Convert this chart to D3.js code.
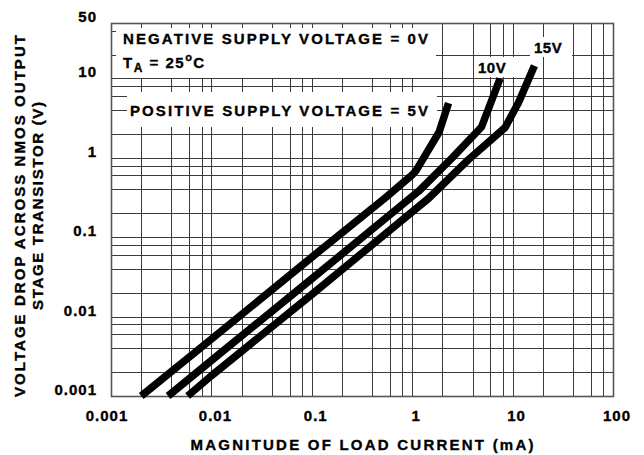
<!DOCTYPE html>
<html>
<head>
<meta charset="utf-8">
<script src="https://cdn.jsdelivr.net/npm/d3@7.9.0/dist/d3.min.js"></script>
<style>
  body { margin: 0; background: #fff; }
  text { font-family: "Liberation Sans", Arial, sans-serif; font-weight: bold; fill: #000;
         stroke: #000; stroke-width: 0.35px; }
</style>
</head>
<body>
<svg id="chart" width="644" height="455"></svg>
<script>
// axis ticks
const xTicks = [0.001, 0.01, 0.1, 1, 10, 100];
const xTickLabels = ["0.001", "0.01", "0.1", "1", "10", "100"];
const yTicks = [0.001, 0.01, 0.1, 1, 10, 50];
const yTickLabels = ["0.001", "0.01", "0.1", "1", "10", "50"];
const minorSteps = [1, 2, 4, 6, 8];

// curves (load current mA, voltage drop V)
const seriesNames = ["5V", "10V", "15V"];
const current5V = [0.002, 0.01, 0.1, 0.55, 1.0, 1.1, 1.85, 2.3];
const volt5V = [0.001, 0.0052, 0.056, 0.32, 0.61, 0.70, 2.1, 4.9];
const current10V = [0.0037, 0.01, 0.1, 1.16, 2.5, 4.9, 7.5];
const volt10V = [0.001, 0.0028, 0.030, 0.38, 1.0, 2.45, 10];
const current15V = [0.0058, 0.01, 0.1, 1.46, 3.6, 8.4, 11.4, 16.5];
const volt15V = [0.001, 0.0018, 0.019, 0.31, 0.94, 2.4, 4.9, 14.5];

const svg = d3.select("#chart");
const plotLeft = 111, plotRight = 613, plotTop = 23, plotBottom = 396;

const x = d3.scaleLog().domain([0.001, 100]).range([plotLeft, plotRight]);
const y = d3.scaleLog().domain([0.001, 50]).range([plotBottom, plotTop]);
const px = v => Math.round(v) + 0.5;

// grid values
let xGrid = [];
xTicks.slice(0, -1).forEach(d => minorSteps.forEach(m => xGrid.push(d * m)));
let yGrid = [];
yTicks.slice(0, 4).forEach(d => minorSteps.forEach(m => yGrid.push(d * m)));
yGrid.push(10, 20);

const grid = svg.append("g").attr("stroke", "#3a3a3a").attr("stroke-width", 1);
grid.selectAll("line.v").data(xGrid.slice(1)).join("line")
    .attr("class", "v")
    .attr("x1", d => px(x(d))).attr("x2", d => px(x(d)))
    .attr("y1", plotTop).attr("y2", plotBottom);
grid.selectAll("line.h").data(yGrid.slice(1)).join("line")
    .attr("class", "h")
    .attr("y1", d => px(y(d))).attr("y2", d => px(y(d)))
    .attr("x1", plotLeft).attr("x2", plotRight);
// 40 only shows as a short tick
grid.append("line")
    .attr("y1", px(y(40))).attr("y2", px(y(40)))
    .attr("x1", plotLeft).attr("x2", plotLeft + 5);

// white boxes behind the notes
const boxes = [
  [116, 28, 320, 50],
  [127, 92, 310, 35],
  [474, 57, 42, 20],
  [530, 37, 42, 20]
];
svg.append("g").selectAll("rect").data(boxes).join("rect")
    .attr("x", d => d[0]).attr("y", d => d[1])
    .attr("width", d => d[2]).attr("height", d => d[3])
    .attr("fill", "#fff");

// frame
svg.append("rect")
    .attr("x", plotLeft + 0.5).attr("y", plotTop + 0.5)
    .attr("width", plotRight - plotLeft).attr("height", plotBottom - plotTop)
    .attr("fill", "none").attr("stroke", "#555").attr("stroke-width", 1.6);

// curves
const series = [
  current5V.map((c, i) => [c, volt5V[i]]),
  current10V.map((c, i) => [c, volt10V[i]]),
  current15V.map((c, i) => [c, volt15V[i]])
];
const line = d3.line().x(d => x(d[0])).y(d => y(d[1]));
svg.append("g").selectAll("path").data(series).join("path")
    .attr("d", line)
    .attr("fill", "none")
    .attr("stroke", "#000")
    .attr("stroke-width", 7.5)
    .attr("stroke-linejoin", "round");

// tick labels
svg.append("g").selectAll("text").data(xTicks).join("text")
    .attr("x", (d, i) => x(d) + (i === 0 ? -4 : 4))
    .attr("y", 421)
    .attr("text-anchor", "middle")
    .attr("font-size", 15)
    .attr("letter-spacing", 1)
    .text((d, i) => xTickLabels[i]);

svg.append("g").selectAll("text").data(yTicks).join("text")
    .attr("x", 97)
    .attr("y", d => y(d) - 1)
    .attr("text-anchor", "end")
    .attr("font-size", 15)
    .attr("letter-spacing", 1)
    .text((d, i) => yTickLabels[i]);

// axis titles
svg.append("text")
    .attr("x", 362).attr("y", 445).attr("dy", "0.35em")
    .attr("text-anchor", "middle")
    .attr("font-size", 15)
    .attr("textLength", 343).attr("lengthAdjust", "spacing")
    .text("MAGNITUDE OF LOAD CURRENT (mA)");

svg.append("text")
    .attr("transform", "translate(20,216) rotate(-90)")
    .attr("dy", "0.35em")
    .attr("text-anchor", "middle")
    .attr("font-size", 15)
    .attr("textLength", 362).attr("lengthAdjust", "spacing")
    .text("VOLTAGE DROP ACROSS NMOS OUTPUT");

svg.append("text")
    .attr("transform", "translate(38,206) rotate(-90)")
    .attr("dy", "0.35em")
    .attr("text-anchor", "middle")
    .attr("font-size", 15)
    .attr("textLength", 208).attr("lengthAdjust", "spacing")
    .text("STAGE TRANSISTOR (V)");

// notes
svg.append("text")
    .attr("x", 123).attr("y", 44)
    .attr("font-size", 15)
    .attr("textLength", 305).attr("lengthAdjust", "spacing")
    .text("NEGATIVE SUPPLY VOLTAGE = 0V");

const ta = svg.append("text").attr("x", 123).attr("y", 68)
    .attr("font-size", 15).attr("letter-spacing", 1.5);
ta.append("tspan").text("T");
ta.append("tspan").attr("font-size", 12).attr("dy", 4).text("A");
ta.append("tspan").attr("dy", -4).text(" = 25");
ta.append("tspan").attr("font-size", 11).attr("dy", -7).text("o");
ta.append("tspan").attr("dy", 7).text("C");

svg.append("text")
    .attr("x", 130).attr("y", 116)
    .attr("font-size", 15)
    .attr("textLength", 298).attr("lengthAdjust", "spacing")
    .text("POSITIVE SUPPLY VOLTAGE = 5V");

const labelPos = [null, [478, 73], [534, 53]];
svg.append("g").selectAll("text").data(seriesNames.slice(1)).join("text")
    .attr("x", (d, i) => labelPos[i + 1][0])
    .attr("y", (d, i) => labelPos[i + 1][1])
    .attr("font-size", 15)
    .attr("letter-spacing", 0.5)
    .text(d => d);
</script>
</body>
</html>
